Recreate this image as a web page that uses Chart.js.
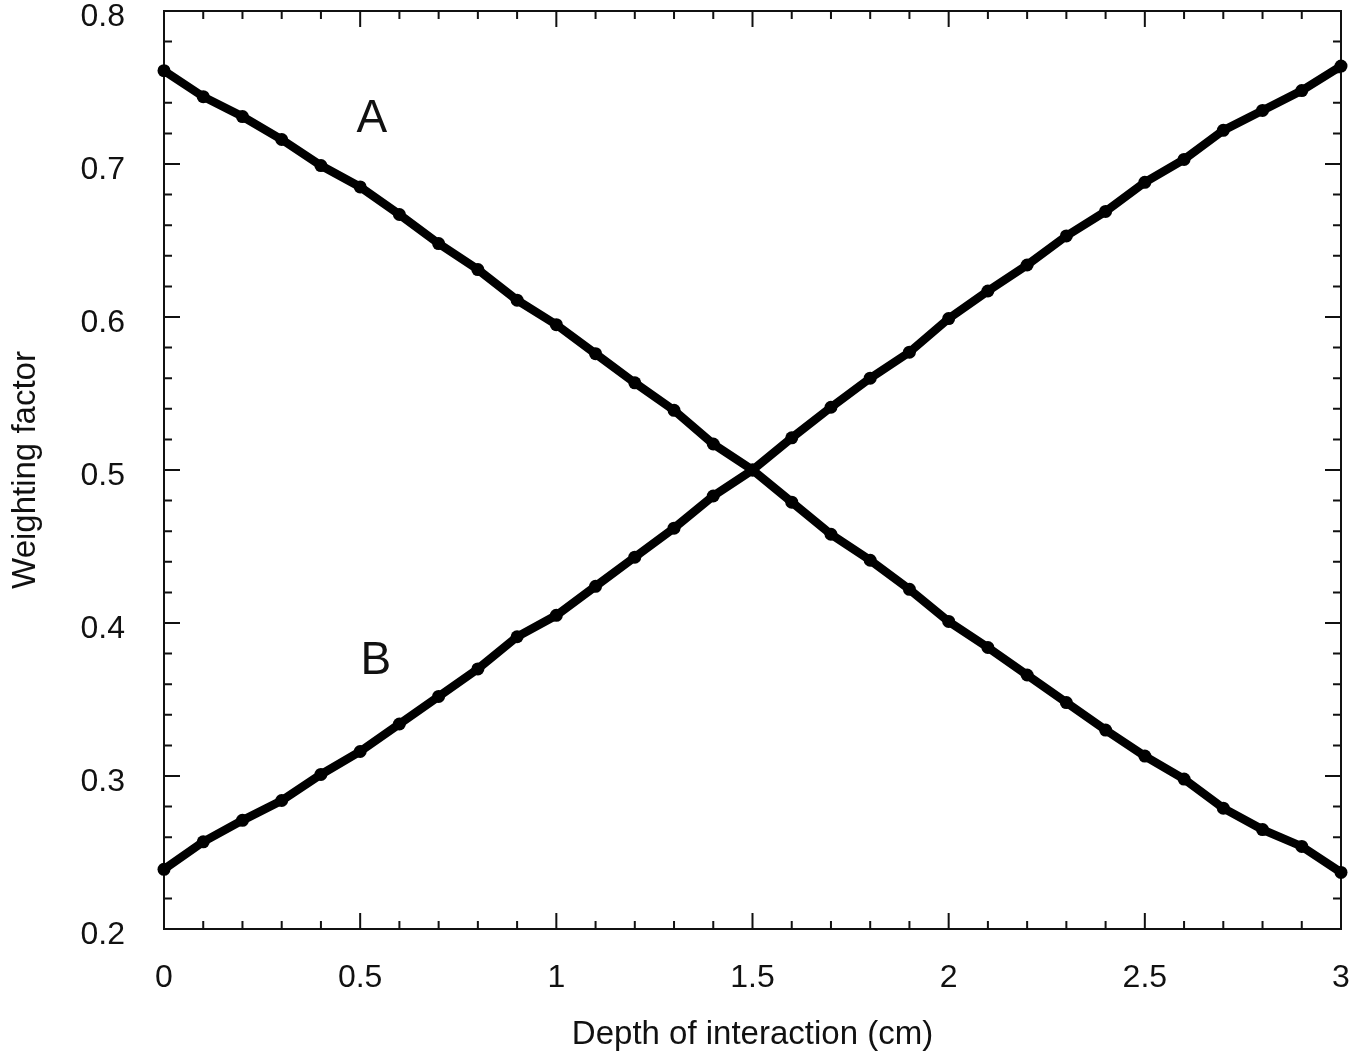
<!DOCTYPE html>
<html>
<head>
<meta charset="utf-8">
<script src="https://cdn.jsdelivr.net/npm/chart.js@4"></script>
<style>
  html, body { margin: 0; padding: 0; background: #fff; }
</style>
</head>
<body>
<canvas id="myChart" width="1369" height="1057"></canvas>
<script>
// depth of interaction (cm)
var depth = [0, 0.1, 0.2, 0.3, 0.4, 0.5, 0.6, 0.7, 0.8, 0.9, 1.0,
             1.1, 1.2, 1.3, 1.4, 1.5, 1.6, 1.7, 1.8, 1.9, 2.0,
             2.1, 2.2, 2.3, 2.4, 2.5, 2.6, 2.7, 2.8, 2.9, 3.0]

// curve A, falling
var curveA = [0.761, 0.744, 0.731, 0.716, 0.699, 0.685, 0.667, 0.648, 0.631, 0.611, 0.595,
              0.576, 0.557, 0.539, 0.517, 0.500, 0.479, 0.458, 0.441, 0.422, 0.401,
              0.384, 0.366, 0.348, 0.330, 0.313, 0.298, 0.279, 0.265, 0.254, 0.237]

// curve B, rising
var curveB = [0.239, 0.257, 0.271, 0.284, 0.301, 0.316, 0.334, 0.352, 0.370, 0.391, 0.405,
              0.424, 0.443, 0.462, 0.483, 0.500, 0.521, 0.541, 0.560, 0.577, 0.599,
              0.617, 0.634, 0.653, 0.669, 0.688, 0.703, 0.722, 0.735, 0.748, 0.764]

var xMajor = [0, 0.5, 1, 1.5, 2, 2.5, 3]
var yMajor = [0.2, 0.3, 0.4, 0.5, 0.6, 0.7, 0.8]
var curveLabels = [
  { text: 'A', x: 0.53, y: 0.729 },
  { text: 'B', x: 0.54, y: 0.375 }
]

var fontFamily = '"Liberation Sans", Arial, Helvetica, sans-serif'
var ink = '#111'

function toPoints(ys){
    return depth.map(function(d, i){ return { x: d, y: ys[i] } })
}

// box round the plot with inside ticks on all four sides
var frameTicks = {
    id: 'frameTicks',
    beforeDatasetsDraw: function(chart){
        var ctx = chart.ctx
        var a = chart.chartArea
        var xs = chart.scales.x
        var ys = chart.scales.y
        ctx.save()
        ctx.strokeStyle = ink
        ctx.lineWidth = 2
        ctx.strokeRect(a.left, a.top, a.right - a.left, a.bottom - a.top)
        ctx.beginPath()
        for (var i = 0; i <= 30; i++) {
            var px = xs.getPixelForValue(i / 10)
            var len = (i % 5 == 0) ? 16 : 8
            ctx.moveTo(px, a.bottom); ctx.lineTo(px, a.bottom - len)
            ctx.moveTo(px, a.top); ctx.lineTo(px, a.top + len)
        }
        for (var j = 0; j <= 30; j++) {
            var py = ys.getPixelForValue(0.2 + j * 0.02)
            var len2 = (j % 5 == 0) ? 16 : 8
            ctx.moveTo(a.left, py); ctx.lineTo(a.left + len2, py)
            ctx.moveTo(a.right, py); ctx.lineTo(a.right - len2, py)
        }
        ctx.stroke()
        ctx.restore()
    },
    afterDatasetsDraw: function(chart){
        var ctx = chart.ctx
        ctx.save()
        ctx.fillStyle = ink
        ctx.font = '46px ' + fontFamily
        ctx.textAlign = 'center'
        ctx.textBaseline = 'middle'
        curveLabels.forEach(function(l){
            ctx.fillText(l.text, chart.scales.x.getPixelForValue(l.x), chart.scales.y.getPixelForValue(l.y))
        })
        ctx.restore()
    }
}

var lineStyle = {
    borderColor: '#000',
    backgroundColor: '#000',
    borderWidth: 8.5,
    pointRadius: 6.5,
    pointBackgroundColor: '#000',
    pointBorderWidth: 0,
    showLine: true,
    tension: 0,
    clip: false
}

var ctx = document.getElementById('myChart').getContext('2d')
var chart = new Chart(ctx, {
    type: 'scatter',
    data: {
        datasets: [
            Object.assign({ label: 'A', data: toPoints(curveA) }, lineStyle),
            Object.assign({ label: 'B', data: toPoints(curveB) }, lineStyle)
        ]
    },
    options: {
        responsive: false,
        animation: false,
        devicePixelRatio: 1,
        layout: { padding: { top: 11, right: 28, left: 0, bottom: 0 } },
        plugins: { legend: { display: false }, tooltip: { enabled: false } },
        scales: {
            x: {
                type: 'linear',
                min: 0, max: 3,
                afterFit: function(s){ s.height = 128; s.paddingLeft = 0; s.paddingRight = 0 },
                afterBuildTicks: function(s){ s.ticks = xMajor.map(function(v){ return { value: v } }) },
                grid: { display: false, drawTicks: false },
                border: { display: false },
                ticks: {
                    padding: 30,
                    color: ink,
                    font: { family: fontFamily, size: 32 },
                    callback: function(v){ return String(v) }
                },
                title: {
                    display: true,
                    text: 'Depth of interaction (cm)',
                    color: ink,
                    font: { family: fontFamily, size: 33 },
                    padding: { top: 0, bottom: 2 }
                }
            },
            y: {
                type: 'linear',
                min: 0.2, max: 0.8,
                afterFit: function(s){ s.width = 164; s.paddingTop = 0; s.paddingBottom = 0 },
                afterBuildTicks: function(s){ s.ticks = yMajor.map(function(v){ return { value: v } }) },
                grid: { display: false, drawTicks: false },
                border: { display: false },
                ticks: {
                    padding: 39,
                    labelOffset: 6,
                    color: ink,
                    font: { family: fontFamily, size: 32 },
                    callback: function(v){ return v.toFixed(1) }
                },
                title: {
                    display: true,
                    text: 'Weighting factor',
                    color: ink,
                    font: { family: fontFamily, size: 33 },
                    padding: { top: 6, bottom: 0 }
                }
            }
        }
    },
    plugins: [frameTicks]
})
</script>
</body>
</html>
